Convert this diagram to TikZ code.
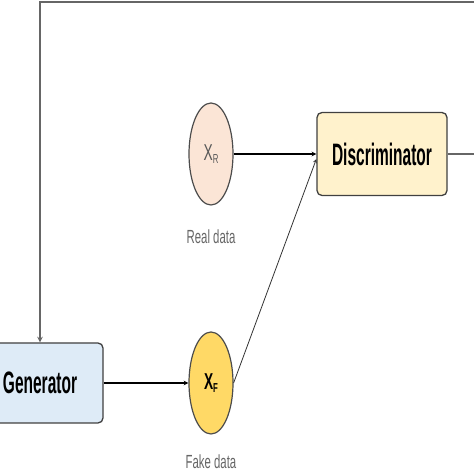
\documentclass[tikz,border=0pt]{standalone}
\usepackage{fontspec}
\usetikzlibrary{shapes.geometric}
\newfontfamily\condfont[FakeStretch=0.5]{Liberation Sans}
\newfontfamily\labelfont[FakeStretch=0.6]{Liberation Sans}

\definecolor{discfill}{HTML}{FFF2CC}
\definecolor{genfill}{HTML}{DEEBF7}
\definecolor{realfill}{HTML}{FBE5D6}
\definecolor{fakefill}{HTML}{FFD966}

\begin{document}
\begin{tikzpicture}[x=1pt,y=1pt,
    box/.style={draw=black!75, line width=1.3pt, rounded corners=5pt,
        font=\condfont\fontsize{31}{33}\selectfont\bfseries, inner sep=0pt},
    datanode/.style={ellipse, draw=black!70, line width=1.2pt, inner sep=0pt,
        minimum width=44pt, minimum height=102pt},
    caption/.style={font=\labelfont\fontsize{19}{21}\selectfont, text=black!60},
    flow/.style={-stealth, line width=1.1pt},
    feedback/.style={-stealth, draw=black!60, line width=1.5pt}]
    \useasboundingbox (0,0) rectangle (474,474);
    \clip (0,0) rectangle (474,474);

    % Networks
    \node[box, fill=discfill, minimum width=130pt, minimum height=83pt] (disc) at (382,320) {Discriminator};
    \node[box, fill=genfill, minimum width=126pt, minimum height=80pt] (gen) at (40,91) {Generator};

    % Data
    \node[datanode, fill=realfill, text=black!65, font=\labelfont\fontsize{23}{24}\selectfont] (xr) at (211,320)
        {X\raisebox{-0.2ex}{\fontsize{13}{13}\selectfont R}};
    \node[datanode, fill=fakefill, font=\labelfont\fontsize{23}{24}\selectfont\bfseries] (xf) at (211,91)
        {X\raisebox{-0.2ex}{\fontsize{13}{13}\selectfont F}};
    \node[caption] (realcap) at (211,237) {Real data};
    \node[caption] (fakecap) at (211,12) {Fake data};

    % Arrows
    \coordinate (discin) at ([yshift=-5pt]disc.west);
    \draw[flow] (xr) -- (disc);
    \draw[flow] (gen) -- (xf);
    \draw[flow, line width=0.8pt, black!80] (xf.east) -- (discin);
    \draw[feedback] (disc.east) -- ++(60,0) |- (100,472) -| (gen.north);
\end{tikzpicture}
\end{document}
